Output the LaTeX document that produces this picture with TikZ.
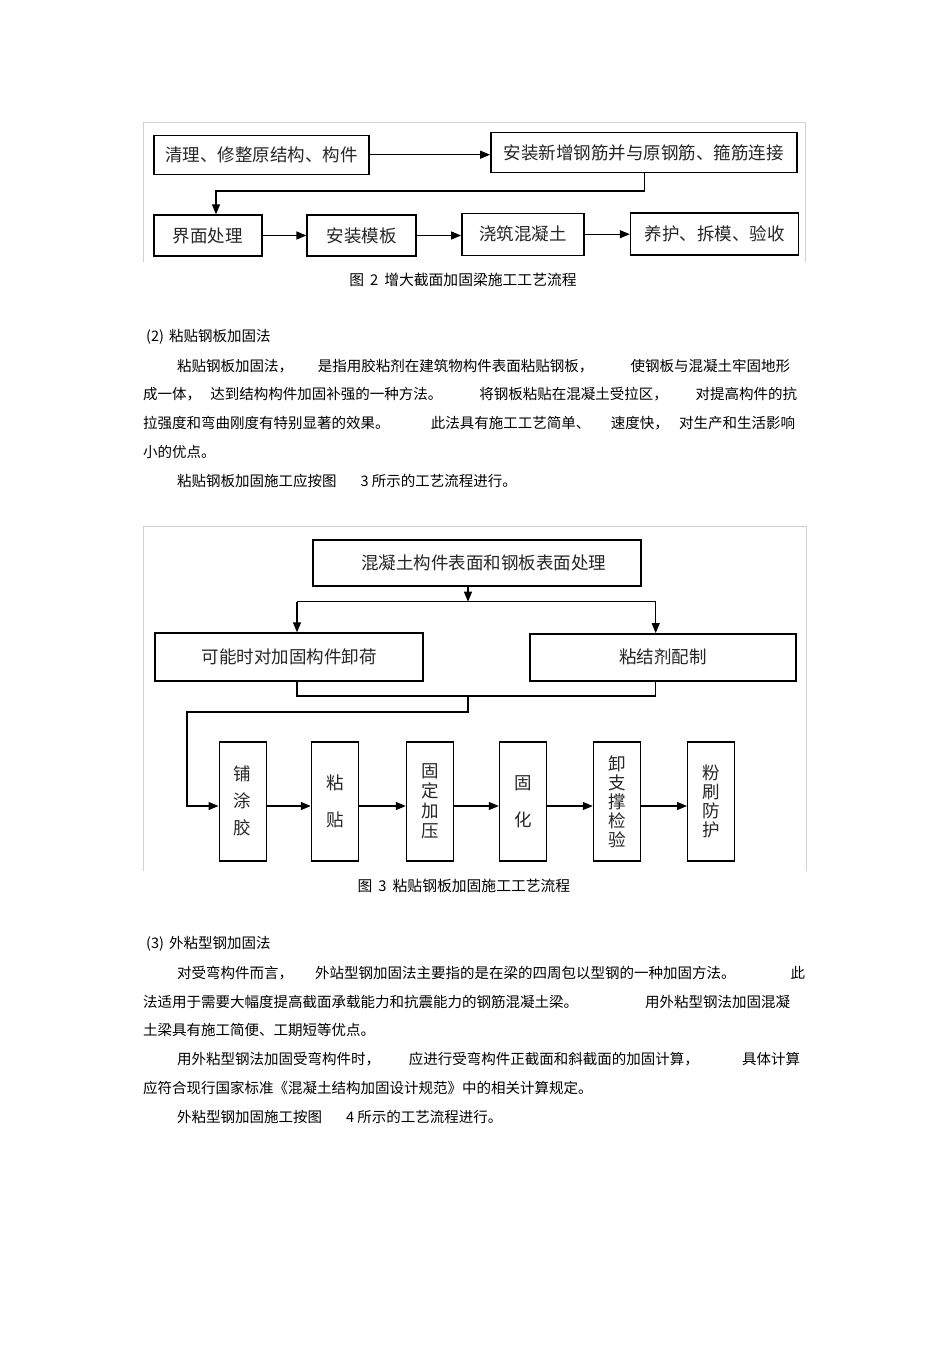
\documentclass[tikz,border=0pt]{standalone}
\usepackage{fontspec}
\setmainfont{Noto Sans CJK SC}
\usetikzlibrary{arrows.meta}

\begin{document}
\begin{tikzpicture}[x=1pt,y=-1pt,
  procbox/.style={draw=black, line width=1.4pt, inner sep=0pt,
    font=\fontsize{17.5}{20}\selectfont, text=black!85},
  vertbox/.style={procbox, minimum width=47, minimum height=119,
    align=center, font=\fontsize{17.5}{#1}\selectfont},
  vertbox/.default=19,
  flowarrow/.style={line width=1.2pt, -{Triangle[length=10pt,width=8pt]}},
  flowline/.style={line width=1.2pt},
  frameline/.style={draw=black!18, line width=0.8pt},
  bodytext/.style={inner sep=0pt, anchor=west, font=\fontsize{14.5}{17}\selectfont},
  captext/.style={inner sep=0pt, font=\fontsize{14.8}{17}\selectfont}]
% page
\fill[white] (0,0) rectangle (950,1345);
\useasboundingbox (0,0) rectangle (950,1345);
%
% ---------- figure 2 ----------
% frame
\draw[frameline] (143,262) -- (143,122.5) -- (805,122.5) -- (805,262);
% first row
\node[procbox, minimum width=215, minimum height=39] (clean) at (261.5,154.7) {清理、修整原结构、构件};
\node[procbox, minimum width=306, minimum height=40] (rebar) at (643.8,152.7) {安装新增钢筋并与原钢筋、箍筋连接};
% second row
\node[procbox, minimum width=108, minimum height=41] (interface) at (207.9,235.5) {界面处理};
\node[procbox, minimum width=109, minimum height=41] (formwork) at (361.6,235.5) {安装模板};
\node[procbox, minimum width=122, minimum height=42] (pour) at (522.8,234.2) {浇筑混凝土};
\node[procbox, minimum width=168, minimum height=42] (cure) at (714.5,234) {养护、拆模、验收};
% arrows
\draw[flowarrow] (clean.east) -- (clean.east -| rebar.west);
\coordinate (turnright) at (644.3,191);
\coordinate (turnleft) at (216,191);
\draw[flowarrow] (rebar.south -| turnright) -- (turnright) -- (turnleft) -- (turnleft |- interface.north);
\draw[flowarrow] (interface.east) -- (formwork.west);
\draw[flowarrow] (formwork.east) -- (formwork.east -| pour.west);
\draw[flowarrow] (pour.east) -- (pour.east -| cure.west);
% caption
\node[captext] (captwo) at (463,280) {图\hspace{6pt}2\hspace{6pt}增大截面加固梁施工工艺流程};
%
% ---------- section (2) ----------
\node[bodytext] (headtwo) at (143,337) {\hspace{3pt}(2)\hspace{5pt}粘贴钢板加固法};
\node[bodytext] (twoa) at (177,366) {\makebox[613pt][s]{粘贴钢板加固法，\hspace{\stretch{2}}是指用胶粘剂在建筑物构件表面粘贴钢板，\hspace{\stretch{3}}使钢板与混凝土牢固地形}};
\node[bodytext] (twob) at (143,394) {\makebox[654pt][s]{成一体，\hspace{\stretch{1}}达到结构构件加固补强的一种方法。\hspace{\stretch{4}}将钢板粘贴在混凝土受拉区，\hspace{\stretch{3}}对提高构件的抗}};
\node[bodytext] (twoc) at (143,423) {\makebox[652pt][s]{拉强度和弯曲刚度有特别显著的效果。\hspace{\stretch{4}}此法具有施工工艺简单、\hspace{\stretch{2}}速度快，\hspace{\stretch{1}}对生产和生活影响}};
\node[bodytext] (twod) at (143,452) {小的优点。};
\node[bodytext] (twoe) at (177,481) {粘贴钢板加固施工应按图\hspace{24pt}3 所示的工艺流程进行。};
%
% ---------- figure 3 ----------
% frame
\draw[frameline] (143,871) -- (143,526) -- (806,526) -- (806,871);
% treatment box
\node[procbox, minimum width=328, minimum height=46] (treat) at (476.8,563) {\hspace{14pt}混凝土构件表面和钢板表面处理};
% two branches
\node[procbox, minimum width=268, minimum height=48] (unload) at (289,657) {可能时对加固构件卸荷};
\node[procbox, minimum width=266, minimum height=47] (glue) at (663,657.3) {粘结剂配制};
% vertical boxes
\node[vertbox=27] (coat) at (242.7,801.3) {铺\\涂\\胶};
\node[vertbox=37] (paste) at (335,801.3) {粘\\贴};
\node[vertbox=20] (press) at (430,801.3) {固\\定\\加\\压};
\node[vertbox=37] (harden) at (523,801.3) {固\\化};
\node[vertbox=19] (remove) at (617,801.3) {卸\\支\\撑\\检\\验};
\node[vertbox=19] (protect) at (711.2,801.3) {粉\\刷\\防\\护};
% split
\coordinate (split) at (468,601.7);
\coordinate (splitleft) at (297,601.7);
\coordinate (splitright) at (655.7,601.7);
\draw[flowarrow] (split |- treat.south) -- (split);
\draw[flowline] (splitleft) -- (splitright);
\draw[flowarrow] (splitleft) -- (splitleft |- unload.north);
\draw[flowarrow] (splitright) -- (splitright |- glue.north);
% join
\coordinate (joinleft) at (297,696);
\coordinate (joinright) at (655.7,696);
\coordinate (join) at (468,696);
\coordinate (joindown) at (468,712);
\coordinate (joinback) at (187,712);
\coordinate (row) at (187,806);
\draw[flowline] (joinleft |- unload.south) -- (joinleft) -- (joinright) -- (joinright |- glue.south);
\draw[flowarrow] (join) -- (joindown) -- (joinback) -- (row) -- (row -| coat.west);
% arrows
\draw[flowarrow] (row -| coat.east) -- (row -| paste.west);
\draw[flowarrow] (row -| paste.east) -- (row -| press.west);
\draw[flowarrow] (row -| press.east) -- (row -| harden.west);
\draw[flowarrow] (row -| harden.east) -- (row -| remove.west);
\draw[flowarrow] (row -| remove.east) -- (row -| protect.west);
% caption
\node[captext] (capthree) at (464,886) {图\hspace{6pt}3\hspace{6pt}粘贴钢板加固施工工艺流程};
%
% ---------- section (3) ----------
\node[bodytext] (headthree) at (143,944) {\hspace{3pt}(3)\hspace{5pt}外粘型钢加固法};
\node[bodytext] (threea) at (177,973) {\makebox[628pt][s]{对受弯构件而言，\hspace{\stretch{2}}外站型钢加固法主要指的是在梁的四周包以型钢的一种加固方法。\hspace{\stretch{5}}此}};
\node[bodytext] (threeb) at (143,1002) {\makebox[647pt][s]{法适用于需要大幅度提高截面承载能力和抗震能力的钢筋混凝土梁。\hspace{\stretch{1}}用外粘型钢法加固混凝}};
\node[bodytext] (threec) at (143,1030) {土梁具有施工简便、工期短等优点。};
\node[bodytext] (threed) at (177,1059) {\makebox[623pt][s]{用外粘型钢法加固受弯构件时，\hspace{\stretch{2}}应进行受弯构件正截面和斜截面的加固计算，\hspace{\stretch{3}}具体计算}};
\node[bodytext] (threee) at (143,1088) {应符合现行国家标准《混凝土结构加固设计规范》中的相关计算规定。};
\node[bodytext] (threef) at (177,1117) {外粘型钢加固施工按图\hspace{24pt}4 所示的工艺流程进行。};
\end{tikzpicture}
\end{document}
